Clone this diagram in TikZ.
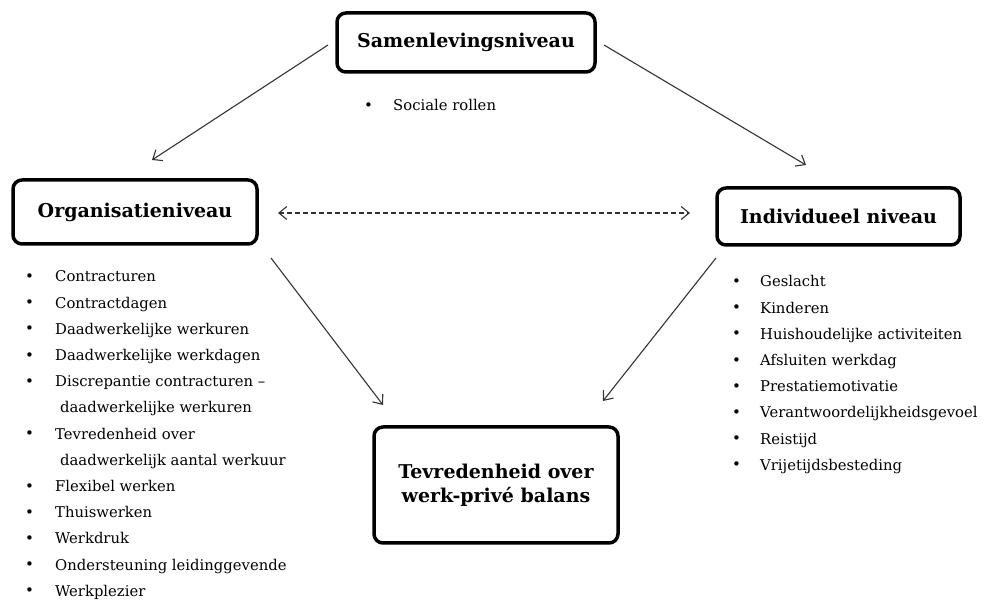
\documentclass[tikz,border=0pt]{standalone}
\usepackage{fontspec}
\setmainfont{DejaVu Serif}
\usetikzlibrary{arrows.meta}
\tikzset{
  level/.style={draw, line width=3.5pt, rounded corners=9pt, align=center,
    font=\fontsize{19}{24}\selectfont\bfseries, inner sep=0pt},
  conn/.style={line width=1.1pt, draw=black!80, -{Straight Barb[length=8pt,width=13pt,line width=1.1pt]}},
  dconn/.style={line width=1.1pt, draw=black!80, dashed, dash pattern=on 5pt off 3pt,
    {Straight Barb[length=8pt,width=13pt,line width=1.1pt]}-{Straight Barb[length=8pt,width=13pt,line width=1.1pt]}},
  list/.style={inner sep=0pt, anchor=base west, font=\fontsize{14.8}{26.2}\selectfont, text=black}
}
\newcommand{\bul}{\raisebox{0.5pt}{\fontsize{15}{15}\selectfont •}}
\begin{document}
\begin{tikzpicture}[x=1pt,y=-1pt]
\useasboundingbox (0,0) rectangle (989,601);
\node[level, minimum width=258pt, minimum height=59pt] (S) at (466,42.5) {Samenlevingsniveau};
\node[level, minimum width=244pt, minimum height=64pt] (O) at (135,212) {Organisatieniveau};
\node[level, minimum width=243pt, minimum height=57pt] (I) at (838.5,216.5) {Individueel niveau};
\node[level, minimum width=244pt, minimum height=116pt] (T) at (496,485) {Tevredenheid over\\werk-privé balans};

\node[list] (sl) at (364,111) {\begin{tabular}[t]{@{}p{29pt}@{}l@{}}\bul & Sociale rollen\end{tabular}};

\node[list] (ol) at (25,282) {\begin{tabular}[t]{@{}p{30pt}@{}l@{}}
\bul & Contracturen\\
\bul & Contractdagen\\
\bul & Daadwerkelijke werkuren\\
\bul & Daadwerkelijke werkdagen\\
\bul & Discrepantie contracturen –\\
 & \hspace{5pt}daadwerkelijke werkuren\\
\bul & Tevredenheid over\\
 & \hspace{5pt}daadwerkelijk aantal werkuur\\
\bul & Flexibel werken\\
\bul & Thuiswerken\\
\bul & Werkdruk\\
\bul & Ondersteuning leidinggevende\\
\bul & Werkplezier
\end{tabular}};

\node[list] (il) at (732,287) {\begin{tabular}[t]{@{}p{28pt}@{}l@{}}
\bul & Geslacht\\
\bul & Kinderen\\
\bul & Huishoudelijke activiteiten\\
\bul & Afsluiten werkdag\\
\bul & Prestatiemotivatie\\
\bul & Verantwoordelijkheidsgevoel\\
\bul & Reistijd\\
\bul & Vrijetijdsbesteding
\end{tabular}};

\coordinate (s1) at (328,45);
\coordinate (o1) at (152,160);
\coordinate (s2) at (604,45);
\coordinate (i1) at (806,165);
\coordinate (o2) at (278,213);
\coordinate (i2) at (690,213);
\coordinate (o3) at (271,258);
\coordinate (t1) at (383,405);
\coordinate (i3) at (716,258);
\coordinate (t2) at (603,401);
\draw[conn] (s1) -- (o1);
\draw[conn] (s2) -- (i1);
\draw[dconn] (o2) -- (i2);
\draw[conn] (o3) -- (t1);
\draw[conn] (i3) -- (t2);
\end{tikzpicture}
\end{document}
